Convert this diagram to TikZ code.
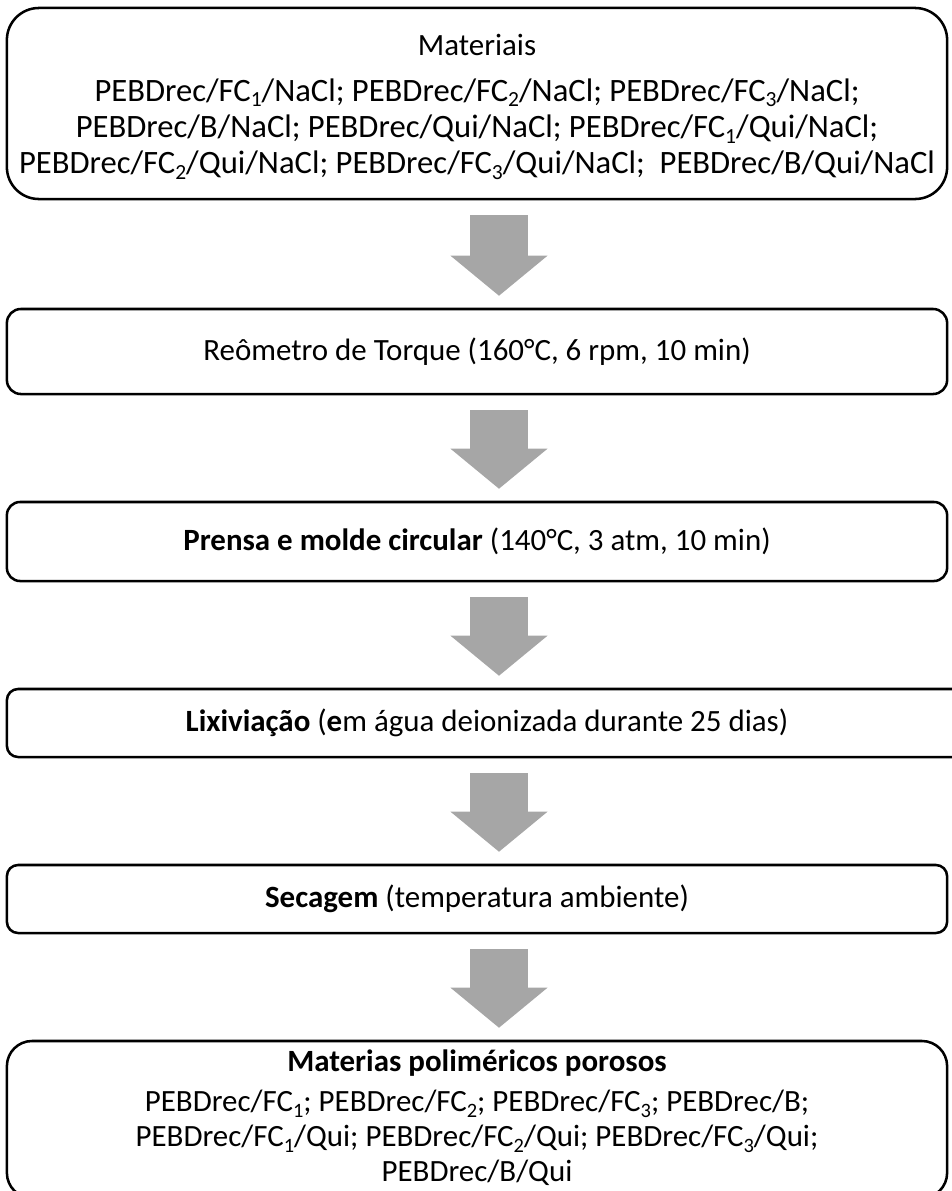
\documentclass[tikz,border=0pt]{standalone}
\usepackage{fontspec}
\setmainfont{Carlito}
\usetikzlibrary{arrows.meta}

\definecolor{arrowgrey}{RGB}{166,166,166}
\newcommand{\subidx}[1]{\raisebox{-0.18em}{\scalebox{0.66}{#1}}}

\tikzset{
  stagebox/.style={draw, line width=1.8pt, rounded corners=#1, inner sep=0pt,
    minimum width=23.5cm},
  stagebox/.default=0.3cm,
  flowarrow/.style={draw=arrowgrey, line width=1.45cm,
    -{Triangle[width=2.425cm,length=1cm,line width=0pt]},
    shorten <=0.375cm, shorten >=0.3cm},
}

\begin{document}
\begin{tikzpicture}[x=0.025cm, y=-0.025cm, font=\fontsize{22}{24.8}\selectfont]
  \useasboundingbox (0,0) rectangle (952,1191);

  % boxes
  \node[stagebox=0.8cm, minimum height=4.775cm] (materiais) at (477,103.5) {};
  \node[stagebox=0.35cm, minimum height=2.125cm] (reometro) at (477,351.5)
    {Reômetro de Torque (160°C, 6 rpm, 10 min)};
  \node[stagebox=0.33cm, minimum height=1.975cm] (prensa) at (477,541.5)
    {\textbf{Prensa e molde circular} (140°C, 3 atm, 10 min)};
  \node[stagebox=0.28cm, minimum width=24cm, minimum height=1.7cm] (lixiviacao) at (487,723)
    {\textbf{Lixiviação} (\textbf{e}m água deionizada durante 25 dias)};
  \node[stagebox=0.28cm, minimum height=1.7cm] (secagem) at (477,899)
    {\textbf{Secagem} (temperatura ambiente)};
  \node[stagebox=0.63cm, minimum height=3.925cm] (porosos) at (477,1119.5) {};

  % texts of the two large boxes
  \node (tmateriais) at (477,45) {Materiais};
  \node[align=center, font=\fontsize{23.2}{25.8}\selectfont] (lmateriais) at (477,129)
    {PEBDrec/FC\subidx{1}/NaCl; PEBDrec/FC\subidx{2}/NaCl; PEBDrec/FC\subidx{3}/NaCl;\\
     PEBDrec/B/NaCl; PEBDrec/Qui/NaCl; PEBDrec/FC\subidx{1}/Qui/NaCl;\\
     PEBDrec/FC\subidx{2}/Qui/NaCl; PEBDrec/FC\subidx{3}/Qui/NaCl;~ PEBDrec/B/Qui/NaCl};
  \node (tporosos) at (477,1063) {\textbf{Materias poliméricos porosos}};
  \node[align=center] (lporosos) at (477,1138)
    {PEBDrec/FC\subidx{1}; PEBDrec/FC\subidx{2}; PEBDrec/FC\subidx{3}; PEBDrec/B;\\
     PEBDrec/FC\subidx{1}/Qui; PEBDrec/FC\subidx{2}/Qui; PEBDrec/FC\subidx{3}/Qui;\\
     PEBDrec/B/Qui};

  % arrows
  \coordinate (ax) at (499,0);
  \draw[flowarrow] (ax |- materiais.south) -- (ax |- reometro.north);
  \draw[flowarrow] (ax |- reometro.south) -- (ax |- prensa.north);
  \draw[flowarrow] (ax |- prensa.south) -- (ax |- lixiviacao.north);
  \draw[flowarrow] (ax |- lixiviacao.south) -- (ax |- secagem.north);
  \draw[flowarrow] (ax |- secagem.south) -- (ax |- porosos.north);

\end{tikzpicture}
\end{document}
